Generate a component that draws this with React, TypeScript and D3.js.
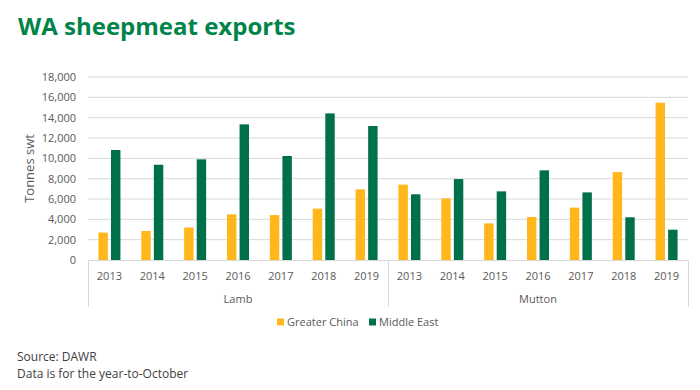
import { useEffect, useRef } from 'react';
import * as d3 from 'd3';

const groups = ['Lamb', 'Mutton'];
const years = ['2013', '2014', '2015', '2016', '2017', '2018', '2019'];
const seriesNames = ['Greater China', 'Middle East'];

// tonnes swt
const lambChina = [2700, 2850, 3200, 4490, 4420, 5050, 6950];
const lambMiddleEast = [10820, 9370, 9900, 13340, 10230, 14420, 13180];
const muttonChina = [7410, 6060, 3600, 4230, 5150, 8650, 15470];
const muttonMiddleEast = [6460, 7960, 6750, 8820, 6650, 4200, 2980];

const yTicks = [0, 2000, 4000, 6000, 8000, 10000, 12000, 14000, 16000, 18000];

export default function App() {
    const ref = useRef<SVGSVGElement | null>(null);

    useEffect(() => {
        document.body.style.margin = '0';
        const width = 700;
        const height = 390;
        const margin = { left: 88, right: 12, top: 77, bottom: 130 };
        const font = "'Open Sans', 'Liberation Sans', sans-serif";

        const svg = d3.select(ref.current);
        svg.selectAll('*').remove();
        svg.attr('width', width).attr('height', height);

        const color = d3.scaleOrdinal<string>()
            .domain(seriesNames)
            .range(['#FFB71B', '#00704A']);

        const rows = [
            { group: 'Lamb', china: lambChina, me: lambMiddleEast },
            { group: 'Mutton', china: muttonChina, me: muttonMiddleEast },
        ].flatMap((g) =>
            years.map((yr, i) => ({
                key: `${g.group}-${yr}`,
                group: g.group,
                year: yr,
                values: [g.china[i], g.me[i]],
            }))
        );

        const x0 = d3.scaleBand<string>()
            .domain(rows.map((r) => r.key))
            .range([margin.left, width - margin.right]);

        const groupW = 22;
        const x1 = d3.scaleBand<string>()
            .domain(seriesNames)
            .range([0, groupW])
            .paddingInner(0.25);

        const y = d3.scaleLinear()
            .domain([0, 18000])
            .range([height - margin.bottom, margin.top]);

        // === Title ===
        svg.append('text')
            .attr('x', 18)
            .attr('y', 35)
            .attr('font-family', font)
            .attr('font-size', '24px')
            .attr('font-weight', 'bold')
            .attr('fill', '#00844A')
            .text('WA sheepmeat exports');

        // === Gridlines + y labels ===
        svg.append('g')
            .selectAll('line')
            .data(yTicks.filter((t) => t > 0))
            .enter()
            .append('line')
            .attr('x1', margin.left)
            .attr('x2', width - margin.right)
            .attr('y1', (d) => y(d))
            .attr('y2', (d) => y(d))
            .attr('stroke', '#d9d9d9')
            .attr('stroke-width', 1);

        svg.append('g')
            .selectAll('text')
            .data(yTicks)
            .enter()
            .append('text')
            .attr('x', 76)
            .attr('y', (d) => y(d))
            .attr('dy', '0.35em')
            .attr('text-anchor', 'end')
            .attr('font-family', font)
            .attr('font-size', '11px')
            .attr('fill', '#595959')
            .text((d) => d3.format(',')(d));

        svg.append('text')
            .attr('transform', `translate(34, ${y(9000)}) rotate(-90)`)
            .attr('text-anchor', 'middle')
            .attr('font-family', font)
            .attr('font-size', '13px')
            .attr('fill', '#595959')
            .text('Tonnes swt');

        // === Bars ===
        const cat = svg.append('g')
            .selectAll('g')
            .data(rows)
            .enter()
            .append('g')
            .attr('transform', (d) => `translate(${x0(d.key)! + (x0.bandwidth() - groupW) / 2}, 0)`);

        cat.selectAll('rect')
            .data((d) => d.values.map((v, i) => ({ name: seriesNames[i], v })))
            .enter()
            .append('rect')
            .attr('x', (d) => x1(d.name)!)
            .attr('width', x1.bandwidth())
            .attr('y', (d) => y(d.v))
            .attr('height', (d) => y(0) - y(d.v))
            .attr('fill', (d) => color(d.name));

        // === Category axis ===
        const base = y(0);
        svg.append('line')
            .attr('x1', margin.left)
            .attr('x2', width - margin.right)
            .attr('y1', base + 0.5)
            .attr('y2', base + 0.5)
            .attr('stroke', '#d9d9d9');

        svg.append('g')
            .selectAll('text')
            .data(rows)
            .enter()
            .append('text')
            .attr('x', (d) => x0(d.key)! + x0.bandwidth() / 2)
            .attr('y', base + 16)
            .attr('dy', '0.35em')
            .attr('text-anchor', 'middle')
            .attr('font-family', font)
            .attr('font-size', '11px')
            .attr('fill', '#595959')
            .text((d) => d.year);

        const groupEdges = groups.map((g) => {
            const keys = rows.filter((r) => r.group === g).map((r) => r.key);
            return { g, start: x0(keys[0])!, end: x0(keys[keys.length - 1])! + x0.bandwidth() };
        });

        const dividers = [groupEdges[0].start, ...groupEdges.map((e) => e.end)];
        svg.append('g')
            .selectAll('line')
            .data(dividers)
            .enter()
            .append('line')
            .attr('x1', (d) => Math.round(d) + 0.5)
            .attr('x2', (d) => Math.round(d) + 0.5)
            .attr('y1', base)
            .attr('y2', base + 47)
            .attr('stroke', '#d9d9d9');

        svg.append('g')
            .selectAll('text')
            .data(groupEdges)
            .enter()
            .append('text')
            .attr('x', (d) => (d.start + d.end) / 2)
            .attr('y', base + 39)
            .attr('dy', '0.35em')
            .attr('text-anchor', 'middle')
            .attr('font-family', font)
            .attr('font-size', '11px')
            .attr('fill', '#595959')
            .text((d) => d.g);

        // === Legend ===
        const legendX = [277, 369];
        const legend = svg.append('g')
            .selectAll('g')
            .data(seriesNames)
            .enter()
            .append('g')
            .attr('transform', (_, i) => `translate(${legendX[i]}, 322)`);

        legend.append('rect')
            .attr('x', 0)
            .attr('y', -3.5)
            .attr('width', 7)
            .attr('height', 7)
            .attr('fill', (d) => color(d));

        legend.append('text')
            .attr('x', 10)
            .attr('dy', '0.35em')
            .attr('font-family', font)
            .attr('font-size', '11px')
            .attr('fill', '#595959')
            .text((d) => d);

        // === Notes ===
        svg.append('g')
            .selectAll('text')
            .data(['Source: DAWR', 'Data is for the year-to-October'])
            .enter()
            .append('text')
            .attr('x', 17)
            .attr('y', (_, i) => 357 + i * 17)
            .attr('dy', '0.35em')
            .attr('font-family', font)
            .attr('font-size', '12px')
            .attr('fill', '#404040')
            .text((d) => d);
    }, []);

    return <svg ref={ref} style={{ display: 'block' }} />;
}
